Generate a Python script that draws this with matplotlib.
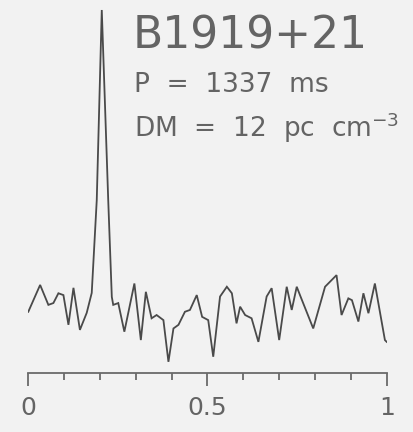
import matplotlib
matplotlib.use("Agg")
import matplotlib.pyplot as plt
from matplotlib.ticker import MultipleLocator

# Pulse profile (phase, normalised intensity)
phase = [0.000, 0.033, 0.056, 0.070, 0.084, 0.098, 0.112, 0.126, 0.144, 0.163,
         0.177, 0.191, 0.205, 0.223, 0.233, 0.237, 0.251, 0.268, 0.296, 0.314,
         0.328, 0.344, 0.358, 0.377, 0.391, 0.405, 0.419, 0.437, 0.451, 0.470,
         0.485, 0.502, 0.516, 0.535, 0.554, 0.568, 0.581, 0.591, 0.605, 0.623,
         0.642, 0.665, 0.679, 0.700, 0.721, 0.735, 0.749, 0.758, 0.795, 0.828,
         0.860, 0.874, 0.893, 0.903, 0.921, 0.935, 0.949, 0.967, 0.995, 1.000]
intensity = [0.168, 0.242, 0.187, 0.192, 0.219, 0.214, 0.132, 0.234, 0.118, 0.165,
             0.220, 0.476, 1.000, 0.476, 0.209, 0.187, 0.192, 0.113, 0.246, 0.090,
             0.223, 0.150, 0.159, 0.145, 0.030, 0.122, 0.132, 0.168, 0.173, 0.214,
             0.154, 0.145, 0.044, 0.210, 0.237, 0.219, 0.136, 0.182, 0.159, 0.150,
             0.085, 0.210, 0.233, 0.090, 0.237, 0.173, 0.237, 0.214, 0.122, 0.237,
             0.269, 0.159, 0.205, 0.200, 0.141, 0.219, 0.164, 0.246, 0.090, 0.085]

name = "B1919+21"
period_txt = "P  =  1337  ms"
dm_txt = r"DM  =  12  pc  cm$^{-3}$"
tick_vals = [0, 0.5, 1]
tick_labels = ["0", "0.5", "1"]

W, H = 414, 432
bg = "#f2f2f2"
txt = "#646464"
axc = "#6a6a6a"

fig = plt.figure(figsize=(W / 100, H / 100), dpi=100, facecolor=bg)
ax = fig.add_axes([28.3 / W, 1 - 372.7 / H, 358.4 / W, 372.7 / H])
ax.set_facecolor(bg)
ax.plot(phase, intensity, color="#4a4a4a", lw=1.3, solid_joinstyle="miter")
ax.set_xlim(0, 1)
ax.set_ylim(0, 372.7 / 362.7)

for s in ("left", "right", "top"):
    ax.spines[s].set_visible(False)
ax.spines["bottom"].set_color(axc)
ax.spines["bottom"].set_linewidth(1.3)
ax.set_yticks([])
ax.set_xticks(tick_vals)
ax.set_xticklabels(tick_labels)
ax.xaxis.set_minor_locator(MultipleLocator(0.1))
ax.tick_params(axis="x", which="major", direction="out", length=9, width=1.3,
               color=axc, labelsize=18, labelcolor=txt, pad=8)
ax.tick_params(axis="x", which="minor", direction="out", length=5, width=1.3,
               color=axc)

fig.text(133 / W, 1 - 48.3 / H, name, fontsize=31.7, color=txt,
         ha="left", va="baseline", family="DejaVu Sans")
fig.text(134 / W, 1 - 92 / H, period_txt, fontsize=19, color=txt,
         ha="left", va="baseline", family="DejaVu Sans")
fig.text(134 / W, 1 - 136.7 / H, dm_txt, fontsize=19, color=txt,
         ha="left", va="baseline", family="DejaVu Sans")

fig.savefig("out.png", dpi=100, facecolor=bg)
